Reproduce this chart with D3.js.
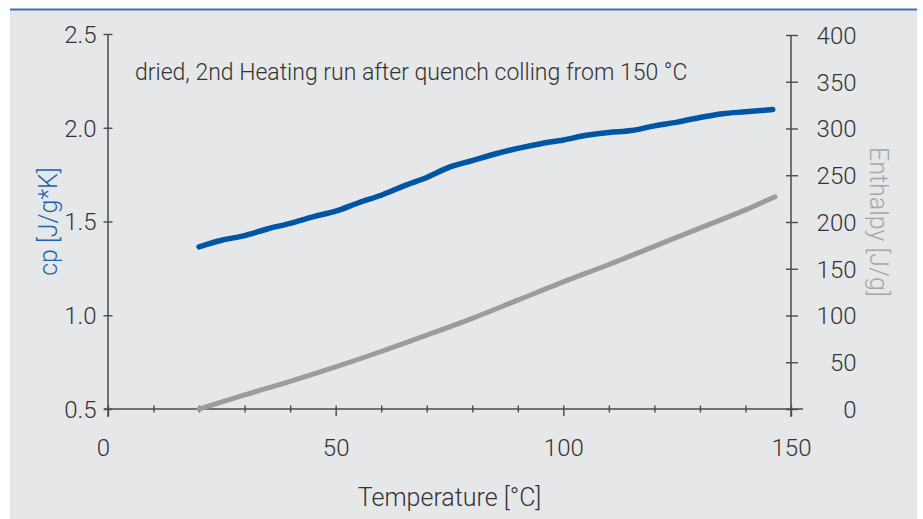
<!DOCTYPE html>
<html>
<head>
<meta charset="utf-8">
<script src="https://cdn.jsdelivr.net/npm/d3@7"></script>
<style>
  html, body { margin: 0; padding: 0; background: #ffffff; }
  svg { display: block; }
  text { font-family: "Roboto", "Liberation Sans", sans-serif; font-weight: 300; }
</style>
</head>
<body>
<svg id="chart" width="923" height="519"></svg>
<script>
// Measured specific heat capacity (left axis) and enthalpy (right axis) vs. temperature
const cpTemperature = [20, 25, 30, 35, 40, 45, 50, 55, 60, 65, 70, 75, 80, 85, 90, 95, 100, 105, 110, 115, 120, 125, 130, 135, 140, 146];
const cpValues      = [1.365, 1.40, 1.425, 1.46, 1.49, 1.525, 1.555, 1.60, 1.64, 1.69, 1.735, 1.79, 1.825, 1.86, 1.89, 1.915, 1.935, 1.96, 1.975, 1.985, 2.01, 2.03, 2.055, 2.075, 2.085, 2.097];

const enthalpyTemperature = [20, 30, 40, 50, 60, 70, 80, 90, 100, 110, 120, 130, 140, 146.5];
const enthalpyValues      = [0, 15, 29.5, 45, 61.5, 79, 97, 116.5, 136, 154.5, 174, 193.5, 213, 227];

const xTicks      = [0, 10, 20, 30, 40, 50, 60, 70, 80, 90, 100, 110, 120, 130, 140, 150];
const xLabelTicks = [0, 50, 100, 150];
const cpTicks     = [0.5, 1.0, 1.5, 2.0, 2.5];
const hTicks      = [0, 50, 100, 150, 200, 250, 300, 350, 400];

const titleText = "dried, 2nd Heating run after quench colling from 150 °C";
const xTitle = "Temperature [°C]";
const cpTitle = "cp [J/g*K]";
const hTitle = "Enthalpy [J/g]";

const svg = d3.select("#chart");

// panel background and top rule
svg.append("rect").attr("x", 10).attr("y", 10).attr("width", 907).attr("height", 509).attr("fill", "#e6e7e9");
svg.append("line").attr("x1", 10).attr("x2", 917).attr("y1", 9.5).attr("y2", 9.5)
  .attr("stroke", "#3f70ad").attr("stroke-width", 2);

const x  = d3.scaleLinear().domain([0, 150]).range([108, 791]);
const yL = d3.scaleLinear().domain([0.5, 2.5]).range([409, 34]);
const yR = d3.scaleLinear().domain([0, 400]).range([409, 35]);

const axisColor = "#4a4a4a";
const textColor = "#333333";
const tickFont = 24;

// left axis
const gL = svg.append("g").attr("transform", `translate(${x(0)},0)`)
  .call(d3.axisLeft(yL).tickValues(cpTicks).tickFormat(d3.format(".1f")).tickSize(4.5).tickPadding(7));
gL.select(".domain").remove();
gL.selectAll(".tick line").attr("x1", -4.5).attr("x2", 4.5).attr("stroke", axisColor).attr("stroke-width", 1.4);
gL.selectAll(".tick text").attr("font-size", tickFont).attr("fill", textColor).attr("dy", "0.35em");
svg.append("line").attr("x1", x(0)).attr("x2", x(0)).attr("y1", yL(2.5)).attr("y2", yL(0.5) + 8)
  .attr("stroke", axisColor).attr("stroke-width", 1.5);

// right axis
const gR = svg.append("g").attr("transform", `translate(${x(150)},0)`)
  .call(d3.axisRight(yR).tickValues(hTicks).tickSize(4.5).tickPadding(61));
gR.select(".domain").remove();
gR.selectAll(".tick line").attr("x1", -5).attr("x2", 7).attr("stroke", axisColor).attr("stroke-width", 1.4);
gR.selectAll(".tick text").attr("font-size", tickFont).attr("fill", textColor).attr("text-anchor", "end").attr("dy", "0.35em");
svg.append("line").attr("x1", x(150)).attr("x2", x(150)).attr("y1", yR(400)).attr("y2", yR(0) + 8)
  .attr("stroke", axisColor).attr("stroke-width", 1.5);

// bottom axis
const gB = svg.append("g").attr("transform", `translate(0,${yL(0.5)})`)
  .call(d3.axisBottom(x).tickValues(xTicks)
    .tickFormat(d => xLabelTicks.includes(d) ? d : "").tickSize(0).tickPadding(30));
gB.select(".domain").remove();
gB.selectAll(".tick line")
  .attr("y1", -3.5)
  .attr("y2", d => d % 50 === 0 ? 7 : 3.5)
  .attr("stroke", axisColor).attr("stroke-width", 1.4);
gB.selectAll(".tick text").attr("font-size", tickFont).attr("fill", textColor);
gB.selectAll(".tick").filter(d => d === 0).select("text").attr("dx", -5);
svg.append("line").attr("x1", x(0) - 4).attr("x2", x(150) + 12).attr("y1", yL(0.5)).attr("y2", yL(0.5))
  .attr("stroke", axisColor).attr("stroke-width", 1.5);

// data lines
const cpLine = d3.line().x((d, i) => x(cpTemperature[i])).y(d => yL(d)).curve(d3.curveMonotoneX);
const hLine  = d3.line().x((d, i) => x(enthalpyTemperature[i])).y(d => yR(d)).curve(d3.curveMonotoneX);

svg.append("path").attr("d", hLine(enthalpyValues)).attr("fill", "none")
  .attr("stroke", "#9c9c9c").attr("stroke-width", 5).attr("stroke-linecap", "round").attr("stroke-linejoin", "round");
svg.append("path").attr("d", cpLine(cpValues)).attr("fill", "none")
  .attr("stroke", "#0055a5").attr("stroke-width", 5.5).attr("stroke-linecap", "round").attr("stroke-linejoin", "round");

// annotation
svg.append("text").attr("x", 135).attr("y", 80).attr("font-size", 23).attr("fill", textColor).text(titleText);

// axis titles
svg.append("text").attr("x", (x(0) + x(150)) / 2).attr("y", 506).attr("text-anchor", "middle")
  .attr("font-size", 25).attr("fill", textColor).text(xTitle);
svg.append("text").attr("transform", `translate(57,${(yL(0.5) + yL(2.5)) / 2}) rotate(-90)`)
  .attr("text-anchor", "middle").attr("font-size", 25).attr("fill", "#1e62ad").text(cpTitle);
svg.append("text").attr("transform", `translate(870,${(yR(0) + yR(400)) / 2}) rotate(90)`)
  .attr("text-anchor", "middle").attr("font-size", 25).attr("fill", "#a7a7a7").text(hTitle);
</script>
</body>
</html>
